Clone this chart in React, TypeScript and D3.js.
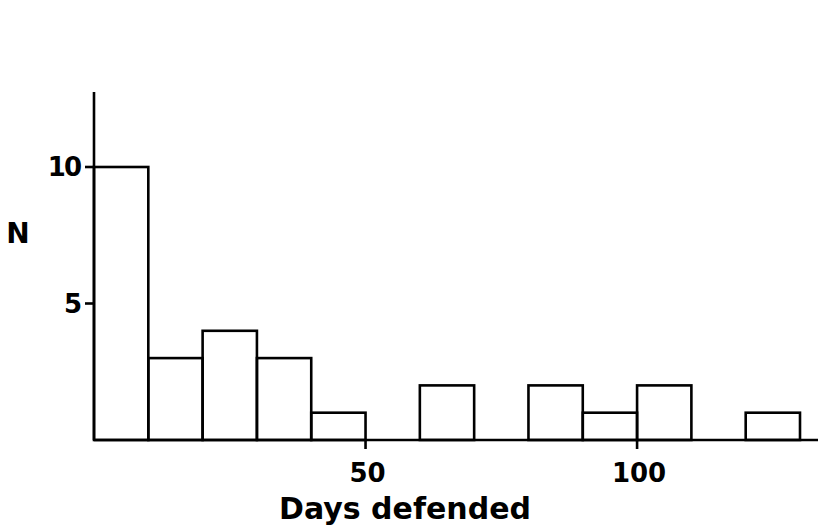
import React from "react";
import * as d3 from "d3";

// histogram bins (days defended, width 10) and counts
const binStarts = [0, 10, 20, 30, 40, 50, 60, 70, 80, 90, 100, 110, 120];
const counts = [10, 3, 4, 3, 1, 0, 2, 0, 2, 1, 2, 0, 1];
const xTicks = [50, 100];
const yTicks = [5, 10];
const binWidth = 10;

const width = 818;
const height = 529;
const font = "'DejaVu Sans', sans-serif";

export default function App() {
  const x = d3.scaleLinear().domain([0, 130]).range([94, 800]);
  const y = d3.scaleLinear().domain([0, 10]).range([440, 167]);
  const xEnd = 820;
  const yTop = 92;

  return (
    <svg
      width={width}
      height={height}
      style={{ position: "absolute", left: 0, top: 0, background: "#fff" }}
    >
      <g fill="none" stroke="#000" strokeWidth={2.6}>
        {binStarts.map((b, i) =>
          counts[i] > 0 ? (
            <rect
              key={b}
              x={x(b)}
              y={y(counts[i])}
              width={x(b + binWidth) - x(b)}
              height={y(0) - y(counts[i])}
            />
          ) : null
        )}
        <line x1={x(0)} x2={xEnd} y1={y(0)} y2={y(0)} />
        <line x1={x(0)} x2={x(0)} y1={y(0)} y2={yTop} />
        {yTicks.map(t => (
          <line key={t} x1={x(0) - 9} x2={x(0)} y1={y(t)} y2={y(t)} />
        ))}
        {xTicks.map(t => (
          <line key={t} x1={x(t)} x2={x(t)} y1={y(0)} y2={y(0) + 9} />
        ))}
      </g>
      <g fontFamily={font} fontWeight="bold" fill="#000">
        {yTicks.map(t => (
          <text
            key={t}
            x={80}
            y={y(t)}
            dy="0.36em"
            textAnchor="end"
            fontSize={26}
            letterSpacing={-2}
          >
            {t}
          </text>
        ))}
        {xTicks.map(t => (
          <text key={t} x={x(t) + 2} y={482} textAnchor="middle" fontSize={26}>
            {t}
          </text>
        ))}
        <text x={18} y={233} dy="0.36em" textAnchor="middle" fontSize={28}>
          N
        </text>
        <text x={405} y={519} textAnchor="middle" fontSize={30}>
          Days defended
        </text>
      </g>
    </svg>
  );
}
